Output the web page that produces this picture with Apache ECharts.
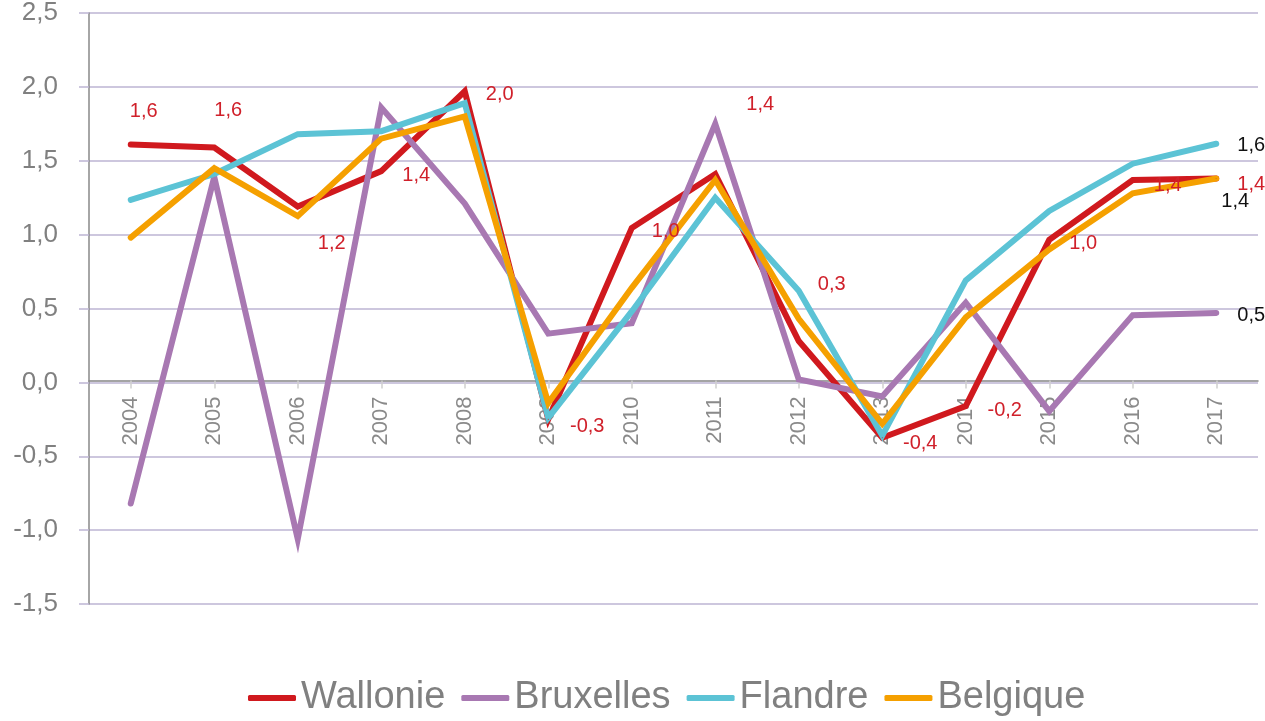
<!DOCTYPE html>
<html>
<head>
<meta charset="utf-8">
<script src="https://cdn.jsdelivr.net/npm/echarts@6/dist/echarts.min.js"></script>
<style>html,body{margin:0;padding:0;background:#fff}#c{width:1265px;height:721px}</style>
</head>
<body>
<div id="c"></div>
<script>
const years = ['2004','2005','2006','2007','2008','2009','2010','2011','2012','2013','2014','2015','2016','2017'];
const seriesNames = ['Wallonie','Bruxelles','Flandre','Belgique'];
const wallonie  = [1.61, 1.59, 1.19, 1.43, 1.97, -0.25, 1.045, 1.41, 0.28, -0.375, -0.16, 0.965, 1.37, 1.38];
const bruxelles = [-0.82, 1.39, -1.06, 1.86, 1.21, 0.33, 0.40, 1.75, 0.02, -0.095, 0.54, -0.195, 0.455, 0.47];
const flandre   = [1.235, 1.41, 1.68, 1.70, 1.89, -0.24, 0.48, 1.25, 0.62, -0.36, 0.69, 1.16, 1.48, 1.615];
const belgique  = [0.98, 1.45, 1.125, 1.65, 1.80, -0.14, 0.64, 1.37, 0.43, -0.28, 0.44, 0.90, 1.28, 1.38];
const yTicks = [-1.5, -1.0, -0.5, 0.0, 0.5, 1.0, 1.5, 2.0, 2.5];

// label layout (style only)
const wallLabelOffsets = [[13,-33],[14,-37],[34,37],[35,4],[35,3],[39,7],[34,4],[45,-70],[33,-57],[38,6],[39,4],[34,4],[35,6],[35,6]];

const fmt = v => v.toFixed(1).replace('.', ',');
const colors = ['#d0191e','#a878b2','#5cc3d5','#f5a000'];

const gridTop = 8, gridBottom = 117, plotH = 721 - gridTop - gridBottom;
const yMin = yTicks[0], yMax = yTicks[yTicks.length - 1];
// distance from bottom of plot to the zero line, so the category axis sits on y = 0
const zeroOffset = -plotH * (0 - yMin) / (yMax - yMin);

function withLabels(values, offsets, color, onlyLast) {
  return values.map((v, i) => {
    if (onlyLast && i !== values.length - 1) return v;
    const off = offsets ? offsets[i] : onlyLast;
    return {
      value: v,
      label: {
        show: true, position: 'inside', offset: off,
        formatter: p => fmt(p.value),
        color: color, fontSize: 20, fontFamily: 'Liberation Sans'
      }
    };
  });
}

const chart = echarts.init(document.getElementById('c'));
const mk = (name, data, color) => ({
  name, type: 'line', data,
  symbol: 'circle', symbolSize: 1, showSymbol: true,
  itemStyle: { color },
  lineStyle: { color, width: 6, cap: 'round', join: 'miter' },
  emphasis: { disabled: true },
  animation: false
});

chart.setOption({
  animation: false,
  color: colors,
  grid: { left: 89, right: 7, top: gridTop, bottom: gridBottom },
  legend: {
    data: seriesNames,
    left: 243, top: 674,
    icon: 'roundRect', itemWidth: 48, itemHeight: 6, itemGap: 16,
    textStyle: { color: '#808080', fontSize: 38, fontFamily: 'Liberation Sans' }
  },
  xAxis: {
    type: 'category', data: years, boundaryGap: true, position: 'bottom',
    offset: zeroOffset,
    axisLine: { onZero: false, lineStyle: { color: '#868686', width: 1.5 } },
    axisTick: { show: true, alignWithLabel: true, length: 8, lineStyle: { color: '#cfcfcf', width: 1.5 } },
    axisLabel: { rotate: 90, margin: 16, color: '#8a8a8a', fontSize: 22, fontFamily: 'Liberation Sans' },
    splitLine: { show: false }
  },
  yAxis: {
    type: 'value', min: yMin, max: yMax, interval: 0.5,
    axisLine: { show: true, lineStyle: { color: '#888888', width: 1.5 } },
    axisTick: { show: true, length: 10, lineStyle: { color: '#bdb5d3', width: 1.5 } },
    axisLabel: { margin: 31, color: '#808080', fontSize: 26, fontFamily: 'Liberation Sans', formatter: v => fmt(v) },
    splitLine: { show: true, lineStyle: { color: '#bdb5d3', width: 1.5 } }
  },
  series: [
    mk('Wallonie', withLabels(wallonie, wallLabelOffsets, '#d0202a'), colors[0]),
    mk('Bruxelles', withLabels(bruxelles, null, '#111111', [35,3]), colors[1]),
    mk('Flandre', withLabels(flandre, null, '#111111', [35,2]), colors[2]),
    mk('Belgique', withLabels(belgique, null, '#111111', [19,23]), colors[3])
  ]
});
</script>
</body>
</html>
